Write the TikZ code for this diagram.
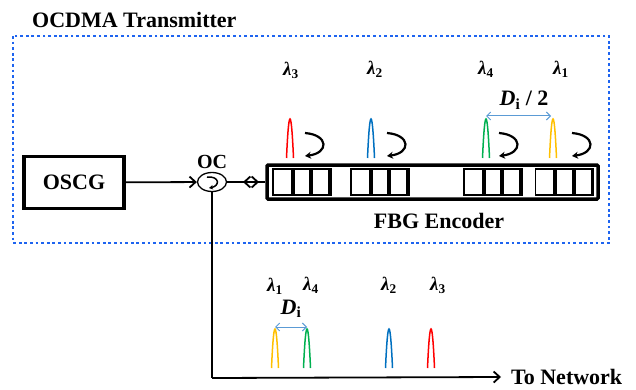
\documentclass[tikz,border=0pt]{standalone}
\usepackage{fontspec}
\setmainfont{Liberation Serif}
\usepackage{tikz}
\usetikzlibrary{arrows.meta}
\usetikzlibrary{shapes.geometric}
\definecolor{dotblue}{RGB}{30,100,240}
\definecolor{spanblue}{RGB}{91,155,213}
\definecolor{pulsered}{RGB}{255,0,0}
\definecolor{pulseblue}{RGB}{0,112,192}
\definecolor{pulsegreen}{RGB}{0,176,80}
\definecolor{pulseyellow}{RGB}{255,192,0}
\tikzset{
  boldtext/.style={font=\fontsize{22}{22}\selectfont\bfseries,inner sep=0pt},
  lambdatext/.style={font=\fontsize{19}{19}\selectfont\bfseries\itshape,inner sep=0pt},
  fiber/.style={line width=1.8pt,-{Straight Barb[length=6pt,width=11pt,line width=1.8pt]}},
  fiberline/.style={line width=1.8pt},
  span/.style={draw=spanblue,line width=1pt,{Straight Barb[length=4pt,width=8pt]}-{Straight Barb[length=4pt,width=8pt]}},
  pulse/.style={line width=1.5pt},
  bounce/.style={line width=2.2pt,-{Stealth[length=6pt,width=7pt]}},
  grating/.style={draw,line width=1.2pt,minimum width=58pt,minimum height=26pt,inner sep=0pt}
}
\newcommand{\pulseat}[3]{\draw[pulse,#1] (#2-3.5,#3) .. controls (#2-1.2,#3-52) and (#2+1.2,#3-52) .. (#2+3.5,#3);}
\begin{document}
\begin{tikzpicture}[x=1pt,y=-1pt]
        \useasboundingbox (0,0) rectangle (636,390);
        % transmitter frame
        \draw[dotblue,line width=2.6pt,dash pattern=on 2.8pt off 2.8pt] (13,36) rectangle (609,243);
        \node[boldtext,anchor=west] (title) at (32,20) {OCDMA Transmitter};
        % blocks
        \node[draw,line width=3.5pt,minimum width=100pt,minimum height=52pt,boldtext] (oscg) at (74,182.5) {OSCG};
        \node[draw,ellipse,line width=1.3pt,minimum width=29pt,minimum height=19pt,inner sep=0pt] (oc) at (212,182) {};
        \node[boldtext,font=\fontsize{20}{20}\selectfont\bfseries] (oclabel) at (212,162) {OC};
        \node[draw,line width=3.5pt,rounded corners=1pt,minimum width=331pt,minimum height=34pt,inner sep=0pt] (fbg) at (432.5,182) {};
        \node[boldtext] (fbglabel) at (439,221) {FBG Encoder};
        % gratings
        \foreach \gx/\gname in {302/ga,380/gb,493/gc,564.5/gd} {
          \node[grating] (\gname) at (\gx,182) {};
          \draw[line width=4pt] (\gx-9.5,169) -- (\gx-9.5,195);
          \draw[line width=4pt] (\gx+9,169) -- (\gx+9,195);
          \draw[line width=3.5pt] (\gx+28,169) -- (\gx+28,195);
        }
        % connectors
        \coordinate (xright) at (259,182);
        \coordinate (xleft) at (243,182);
        \coordinate (corner) at (212,378);
        \node[boldtext,anchor=west] (net) at (511,377) {To Network};
        \draw[fiber] (oscg) -- (oc);
        \draw[fiber] (oc) -- (xright);
        \draw[fiber] (fbg.west) -- (xleft);
        \draw[fiberline] (oc) -- (corner);
        \draw[fiber] (corner) -- ([xshift=-10pt]net.west);
        % circulator mark
        \draw[line width=1.5pt,-{Stealth[length=4pt,width=4.5pt]}] (207,177) .. controls (220,176) and (220,186) .. (209,188);
        % pulses in the encoder
        \pulseat{pulsered}{290}{158}
        \pulseat{pulseblue}{371}{158}
        \pulseat{pulsegreen}{486}{158}
        \pulseat{pulseyellow}{553}{158}
        \foreach \bx in {305,387,499,572} {
          \draw[bounce] (\bx,133) .. controls (\bx+24,135) and (\bx+24,153) .. (\bx,156);
        }
        \node[lambdatext] (la3) at (291,70) {λ\textsubscript{\upshape 3}};
        \node[lambdatext] (la2) at (375,69) {λ\textsubscript{\upshape 2}};
        \node[lambdatext] (la4) at (486,69) {λ\textsubscript{\upshape 4}};
        \node[lambdatext] (la1) at (561,69) {λ\textsubscript{\upshape 1}};
        \coordinate (spanal) at (486,116);
        \coordinate (spanar) at (551,116);
        \draw[span] (spanal) -- (spanar);
        \node[boldtext] (halfspan) at (524,100) {\textit{D}\textsubscript{i} / 2};
        % pulses on the way out
        \pulseat{pulseyellow}{275}{368}
        \pulseat{pulsegreen}{307}{368}
        \pulseat{pulseblue}{389}{368}
        \pulseat{pulsered}{431}{368}
        \node[lambdatext] (lb1) at (275,286) {λ\textsubscript{\upshape 1}};
        \node[lambdatext] (lb4) at (311,285) {λ\textsubscript{\upshape 4}};
        \node[lambdatext] (lb2) at (389,285) {λ\textsubscript{\upshape 2}};
        \node[lambdatext] (lb3) at (438,285) {λ\textsubscript{\upshape 3}};
        \coordinate (spanbl) at (275,327);
        \coordinate (spanbr) at (307,327);
        \draw[span] (spanbl) -- (spanbr);
        \node[boldtext] (fullspan) at (291,309) {\textit{D}\textsubscript{i}};
        \end{tikzpicture}
\end{document}
